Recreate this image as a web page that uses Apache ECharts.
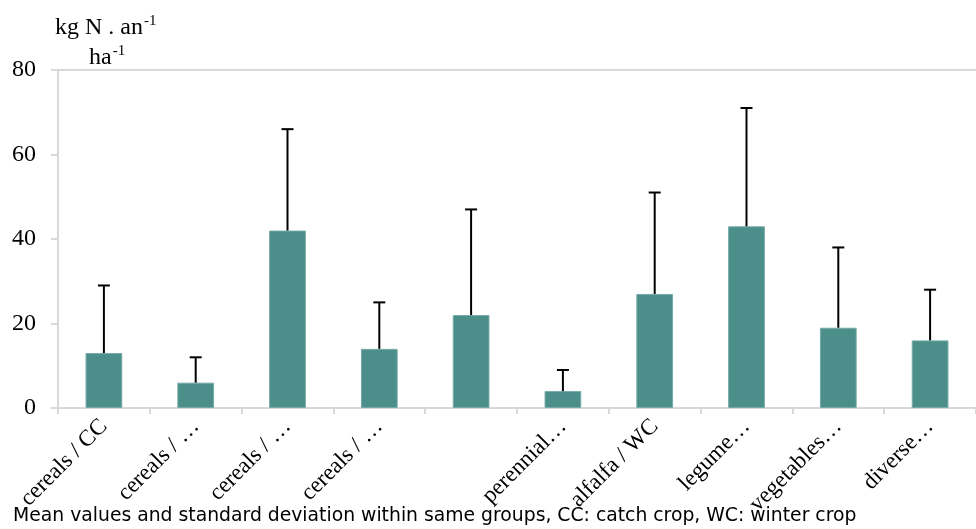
<!DOCTYPE html>
<html>
<head>
<meta charset="utf-8">
<script src="https://cdn.jsdelivr.net/npm/echarts@6/dist/echarts.min.js"></script>
<style>
  html, body { margin: 0; padding: 0; background: #fff; }
  #chart { width: 976px; height: 529px; }
</style>
</head>
<body>
<div id="chart"></div>
<script>
// Rotation groups and their nitrogen values (kg N per year per hectare)
const categories = [
  'cereals / CC', 'cereals / …', 'cereals / …', 'cereals / …', '',
  'perennial…', 'alfalfa / WC', 'legume…', 'vegetables…', 'diverse…'
];
const meanValues = [13, 6, 42, 14, 22, 4, 27, 43, 19, 16];
const stdDevs    = [16, 6, 24, 11, 25, 5, 24, 28, 19, 12];
const yTicks = [0, 20, 40, 60, 80];

const serif = '"Liberation Serif", "DejaVu Serif", serif';
const axisGray = '#d9d9d9';

const chart = echarts.init(document.getElementById('chart'));

const unitRich = {
  b: { fontFamily: serif, fontSize: 24, fill: '#000' },
  s: { fontFamily: serif, fontSize: 15, fill: '#000', verticalAlign: 'top', padding: [0, 0, 12, 1] }
};

chart.setOption({
  animation: false,
  backgroundColor: '#ffffff',
  grid: { left: 58, top: 70, right: -12, bottom: 121, containLabel: false },
  xAxis: [{
    type: 'category',
    data: categories,
    axisLine: { lineStyle: { color: axisGray, width: 2 } },
    axisTick: { show: true, length: 6, lineStyle: { color: axisGray, width: 2 } },
    axisLabel: {
      interval: 0, rotate: 45, margin: 15,
      fontFamily: serif, fontSize: 23, color: '#000'
    }
  }, {
    // top frame line of the plot area
    type: 'category',
    position: 'top',
    data: categories,
    axisLine: { show: true, lineStyle: { color: axisGray, width: 2 } },
    axisTick: { show: false },
    axisLabel: { show: false }
  }],
  yAxis: {
    type: 'value',
    min: yTicks[0],
    max: yTicks[yTicks.length - 1],
    interval: 20,
    axisLine: { show: true, lineStyle: { color: axisGray, width: 2 } },
    axisTick: { show: true, length: 7, lineStyle: { color: axisGray, width: 2 } },
    splitLine: { show: false },
    axisLabel: { fontFamily: serif, fontSize: 24, color: '#000', margin: 22 }
  },
  graphic: [{
    type: 'text',
    left: 55, top: 14,
    style: { text: '{b|kg N . an}{s|-1}', rich: unitRich }
  }, {
    type: 'text',
    left: 89, top: 44,
    style: { text: '{b|ha}{s|-1}', rich: unitRich }
  }, {
    type: 'text',
    left: 13, top: 507,
    style: {
      text: 'Mean values and standard deviation within same groups, CC: catch crop, WC: winter crop',
      fontFamily: '"DejaVu Sans", Verdana, sans-serif',
      fontSize: 18.8,
      fill: '#000'
    }
  }],
  series: [{
    type: 'bar',
    data: meanValues,
    barWidth: '40%',
    itemStyle: { color: '#4b8e8a', borderColor: '#76aaa7', borderWidth: 1 },
    z: 2
  }, {
    // standard deviation whiskers drawn upward from each mean
    type: 'custom',
    data: meanValues.map((m, i) => [i, m, m + stdDevs[i]]),
    encode: { x: 0, y: [1, 2] },
    z: 3,
    renderItem: function (params, api) {
      const base = api.coord([api.value(0), api.value(1)]);
      const top = api.coord([api.value(0), api.value(2)]);
      const half = 6;
      const style = { stroke: '#000', lineWidth: 2 };
      return {
        type: 'group',
        children: [
          { type: 'line', shape: { x1: base[0], y1: base[1], x2: top[0], y2: top[1] }, style },
          { type: 'line', shape: { x1: top[0] - half, y1: top[1], x2: top[0] + half, y2: top[1] }, style }
        ]
      };
    }
  }]
});
</script>
</body>
</html>
